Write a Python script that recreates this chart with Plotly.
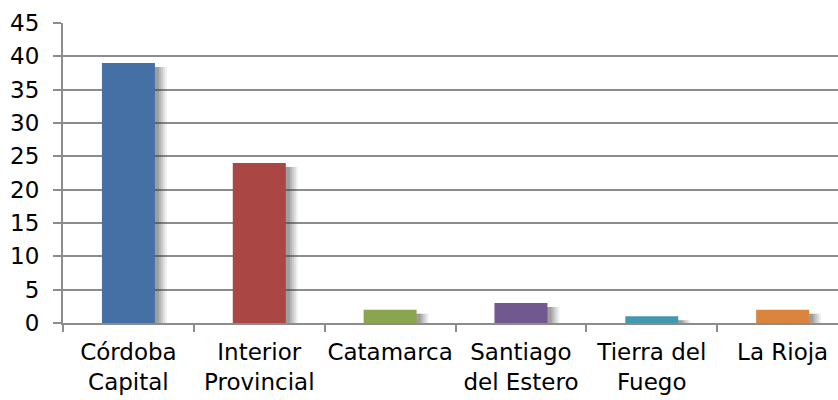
import plotly.graph_objects as go

# Data
categories = ["Córdoba<br>Capital", "Interior<br>Provincial", "Catamarca",
              "Santiago<br>del Estero", "Tierra del<br>Fuego", "La Rioja"]
values = [39, 24, 2, 3, 1, 2]
colors = ["#4470A5", "#AA4643", "#89A54E", "#71588F", "#4198AF", "#DB843D"]
y_ticks = [0, 5, 10, 15, 20, 25, 30, 35, 40, 45]

BAR_W = 0.405
PX = 1 / 130.8  # one pixel in category units

fig = go.Figure()

# soft drop shadow behind each bar (stacked translucent layers)
for k, alpha in [(12, 0.08), (10, 0.10), (8, 0.12), (6, 0.15), (4, 0.18)]:
    fig.add_trace(go.Bar(
        x=categories, y=values, base=[-0.6] * len(values),
        width=BAR_W + (k - 2) * PX, offset=-BAR_W / 2 + 2 * PX,
        marker=dict(color=f"rgba(60,60,60,{alpha})", line=dict(width=0)),
        hoverinfo="skip", showlegend=False,
    ))

fig.add_trace(go.Bar(
    x=categories, y=values, width=BAR_W,
    marker=dict(color=colors, line=dict(width=0)),
    showlegend=False,
))

fig.update_layout(
    width=838, height=400,
    margin=dict(l=63, r=0, t=23, b=77),
    paper_bgcolor="white", plot_bgcolor="white",
    barmode="overlay",
    font=dict(family="DejaVu Sans, Arial, sans-serif", size=23, color="#000000"),
)

fig.update_xaxes(
    range=[-0.5, 5.423],
    showline=True, linecolor="#8C8C8C", linewidth=2,
    ticks="outside", tickson="boundaries", ticklen=7, tickwidth=2, tickcolor="#8C8C8C",
    showgrid=False, tickangle=0, ticklabelstandoff=7,
)
fig.update_yaxes(
    range=[0, 45], tickvals=y_ticks,
    showline=True, linecolor="#8C8C8C", linewidth=2,
    ticks="outside", ticklen=8, tickwidth=2, tickcolor="#8C8C8C",
    showgrid=True, gridcolor="#8C8C8C", gridwidth=2,
    zeroline=False, ticklabelstandoff=9,
)

fig.write_html("out.html")
